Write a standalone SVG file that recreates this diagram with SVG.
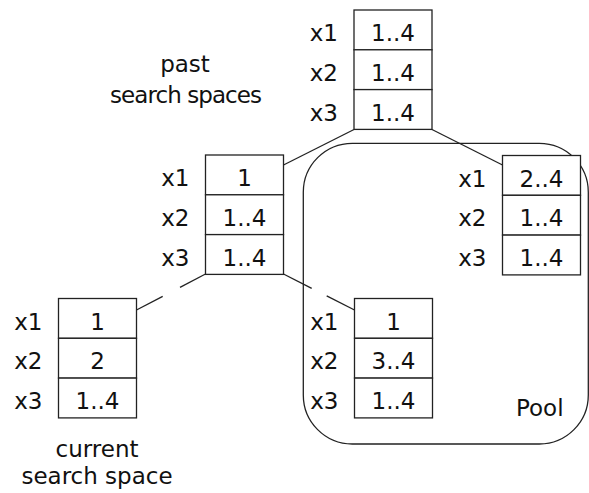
<svg xmlns="http://www.w3.org/2000/svg" width="589" height="493" viewBox="0 0 589 493">
<style>
.cell{fill:#fff;stroke:#222;stroke-width:1.3}
.ln{stroke:#222;stroke-width:1.3;fill:none}
text{font-family:"DejaVu Sans",sans-serif;font-size:23px;fill:#111}
.v{text-anchor:middle}
.l{text-anchor:end}
.c{text-anchor:middle}
</style>
<rect width="589" height="493" fill="#fff"/>
<g id="pool">
<rect class="ln" x="303.3" y="143.3" width="285" height="300.7" rx="49" ry="49"/>
<text x="516" y="416">Pool</text>
</g>
<g id="connectors">
<line class="ln" x1="354" y1="129.5" x2="283.5" y2="165"/>
<line class="ln" x1="432" y1="129.5" x2="502.5" y2="165"/>
<line class="ln" x1="205.5" y1="274" x2="180" y2="287.3"/>
<line class="ln" x1="162.7" y1="296.3" x2="136.5" y2="310"/>
<line class="ln" x1="283.5" y1="274" x2="311.7" y2="288.3"/>
<line class="ln" x1="326.7" y1="295.9" x2="354.5" y2="310"/>
</g>
<g id="root" transform="translate(354,10)">
<rect class="cell" x="0" y="0" width="78" height="39.8"/>
<rect class="cell" x="0" y="39.8" width="78" height="39.8"/>
<rect class="cell" x="0" y="79.6" width="78" height="39.8"/>
<text class="l" x="-16" y="31">x1</text><text class="v" x="39" y="31">1..4</text>
<text class="l" x="-16" y="70.8">x2</text><text class="v" x="39" y="70.8">1..4</text>
<text class="l" x="-16" y="110.6">x3</text><text class="v" x="39" y="110.6">1..4</text>
</g>
<g id="left" transform="translate(205.5,155)">
<rect class="cell" x="0" y="0" width="78" height="39.8"/>
<rect class="cell" x="0" y="39.8" width="78" height="39.8"/>
<rect class="cell" x="0" y="79.6" width="78" height="39.8"/>
<text class="l" x="-16" y="31">x1</text><text class="v" x="39" y="31">1</text>
<text class="l" x="-16" y="70.8">x2</text><text class="v" x="39" y="70.8">1..4</text>
<text class="l" x="-16" y="110.6">x3</text><text class="v" x="39" y="110.6">1..4</text>
</g>
<g id="right" transform="translate(502.5,155.5)">
<rect class="cell" x="0" y="0" width="78" height="39.8"/>
<rect class="cell" x="0" y="39.8" width="78" height="39.8"/>
<rect class="cell" x="0" y="79.6" width="78" height="39.8"/>
<text class="l" x="-16" y="31">x1</text><text class="v" x="39" y="31">2..4</text>
<text class="l" x="-16" y="70.8">x2</text><text class="v" x="39" y="70.8">1..4</text>
<text class="l" x="-16" y="110.6">x3</text><text class="v" x="39" y="110.6">1..4</text>
</g>
<g id="current" transform="translate(58.5,298.5)">
<rect class="cell" x="0" y="0" width="78" height="39.8"/>
<rect class="cell" x="0" y="39.8" width="78" height="39.8"/>
<rect class="cell" x="0" y="79.6" width="78" height="39.8"/>
<text class="l" x="-16" y="31">x1</text><text class="v" x="39" y="31">1</text>
<text class="l" x="-16" y="70.8">x2</text><text class="v" x="39" y="70.8">2</text>
<text class="l" x="-16" y="110.6">x3</text><text class="v" x="39" y="110.6">1..4</text>
</g>
<g id="sibling" transform="translate(354.5,298.5)">
<rect class="cell" x="0" y="0" width="78" height="39.8"/>
<rect class="cell" x="0" y="39.8" width="78" height="39.8"/>
<rect class="cell" x="0" y="79.6" width="78" height="39.8"/>
<text class="l" x="-16" y="31">x1</text><text class="v" x="39" y="31">1</text>
<text class="l" x="-16" y="70.8">x2</text><text class="v" x="39" y="70.8">3..4</text>
<text class="l" x="-16" y="110.6">x3</text><text class="v" x="39" y="110.6">1..4</text>
</g>
<g id="label-past">
<text class="c" x="185" y="72">past</text>
<text class="c" x="186" y="103" textLength="152">search spaces</text>
</g>
<g id="label-current">
<text class="c" x="97" y="456.5">current</text>
<text class="c" x="97" y="484">search space</text>
</g>
</svg>
